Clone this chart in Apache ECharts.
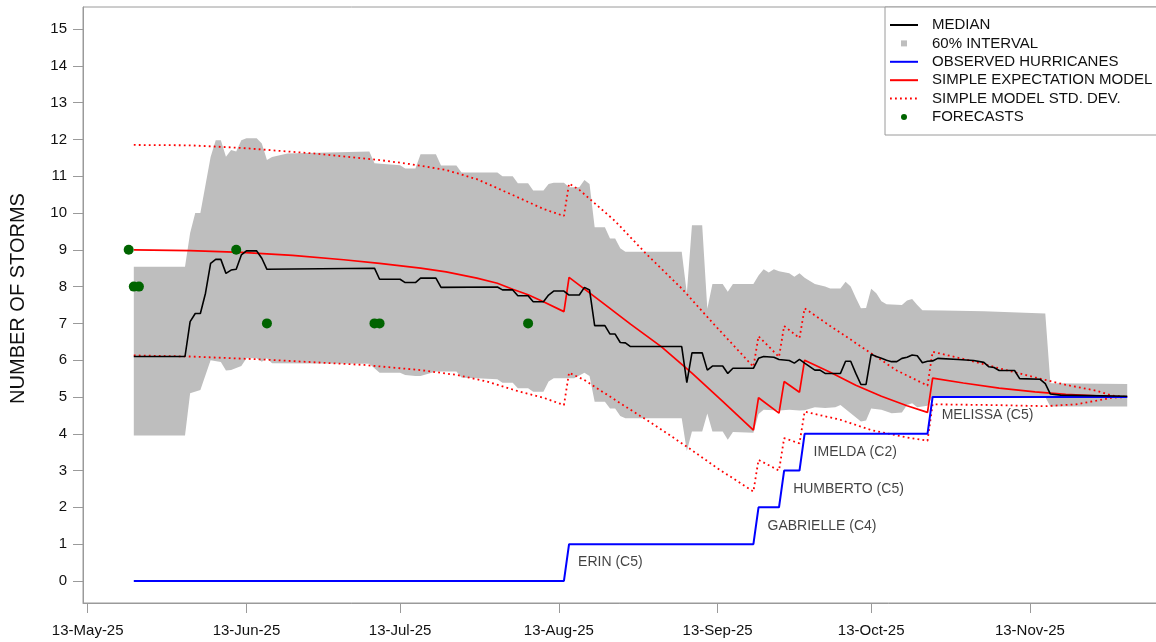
<!DOCTYPE html>
<html>
<head>
<meta charset="utf-8">
<title>Hurricane count forecast 2025</title>
<script src="https://cdn.jsdelivr.net/npm/echarts@6/dist/echarts.min.js"></script>
<style>
  html, body { margin: 0; padding: 0; background: #ffffff; }
  #chart { width: 1156px; height: 642px; }
</style>
</head>
<body>
<div id="chart"></div>
<script>
// ---- Data -------------------------------------------------------------
// x-axis tick dates and their labels
const tickDates = ['2025-05-13', '2025-06-13', '2025-07-13', '2025-08-13', '2025-09-13', '2025-10-13', '2025-11-13'];
const tickLabels = ['13-May-25', '13-Jun-25', '13-Jul-25', '13-Aug-25', '13-Sep-25', '13-Oct-25', '13-Nov-25'];
const yTicks = [0, 1, 2, 3, 4, 5, 6, 7, 8, 9, 10, 11, 12, 13, 14, 15];

// Median of the forecast ensemble
const medianData = [
  ['2025-05-22', 6.10], ['2025-06-01', 6.10], ['2025-06-02', 7.05], ['2025-06-03', 7.27], ['2025-06-04', 7.27],
  ['2025-06-05', 7.82], ['2025-06-06', 8.63], ['2025-06-07', 8.74], ['2025-06-08', 8.74], ['2025-06-09', 8.36],
  ['2025-06-10', 8.45], ['2025-06-11', 8.47], ['2025-06-12', 8.86], ['2025-06-13', 8.97], ['2025-06-15', 8.97],
  ['2025-06-16', 8.77], ['2025-06-17', 8.47], ['2025-07-08', 8.50], ['2025-07-09', 8.20], ['2025-07-13', 8.20],
  ['2025-07-14', 8.11], ['2025-07-16', 8.11], ['2025-07-17', 8.23], ['2025-07-20', 8.23], ['2025-07-21', 7.98],
  ['2025-08-01', 7.99], ['2025-08-02', 7.91], ['2025-08-04', 7.91], ['2025-08-05', 7.75], ['2025-08-07', 7.75],
  ['2025-08-08', 7.59], ['2025-08-10', 7.59], ['2025-08-11', 7.77], ['2025-08-12', 7.88], ['2025-08-14', 7.88],
  ['2025-08-15', 7.77], ['2025-08-17', 7.77], ['2025-08-18', 7.98], ['2025-08-19', 7.91], ['2025-08-20', 6.94],
  ['2025-08-22', 6.94], ['2025-08-23', 6.71], ['2025-08-24', 6.71], ['2025-08-25', 6.48], ['2025-08-26', 6.47],
  ['2025-08-27', 6.37], ['2025-09-06', 6.37], ['2025-09-07', 5.39], ['2025-09-08', 6.20], ['2025-09-10', 6.20],
  ['2025-09-11', 5.73], ['2025-09-12', 5.84], ['2025-09-14', 5.84], ['2025-09-15', 5.64], ['2025-09-16', 5.78],
  ['2025-09-20', 5.78], ['2025-09-21', 6.05], ['2025-09-22', 6.10], ['2025-09-24', 6.08], ['2025-09-25', 6.02],
  ['2025-09-27', 5.99], ['2025-09-28', 5.92], ['2025-09-29', 6.02], ['2025-09-30', 5.92], ['2025-10-02', 5.73],
  ['2025-10-03', 5.73], ['2025-10-04', 5.64], ['2025-10-07', 5.64], ['2025-10-08', 5.97], ['2025-10-09', 5.97],
  ['2025-10-10', 5.64], ['2025-10-11', 5.34], ['2025-10-12', 5.34], ['2025-10-13', 6.16], ['2025-10-14', 6.10],
  ['2025-10-15', 6.05], ['2025-10-16', 6.00], ['2025-10-17', 5.96], ['2025-10-18', 5.96], ['2025-10-19', 6.05],
  ['2025-10-20', 6.08], ['2025-10-21', 6.14], ['2025-10-22', 6.12], ['2025-10-23', 5.93], ['2025-10-24', 5.97],
  ['2025-10-25', 5.98], ['2025-10-26', 6.05], ['2025-10-30', 6.02], ['2025-11-02', 5.99], ['2025-11-04', 5.94],
  ['2025-11-05', 5.82], ['2025-11-06', 5.80], ['2025-11-07', 5.72], ['2025-11-10', 5.72], ['2025-11-11', 5.50],
  ['2025-11-15', 5.48], ['2025-11-16', 5.36], ['2025-11-17', 5.08], ['2025-11-19', 5.05], ['2025-12-02', 5.02]
];

// Upper edge of the 60% interval
const bandHigh = [
  ['2025-05-22', 8.54], ['2025-06-01', 8.54], ['2025-06-02', 9.46], ['2025-06-03', 10.00], ['2025-06-04', 10.00],
  ['2025-06-05', 10.76], ['2025-06-06', 11.52], ['2025-06-07', 11.98], ['2025-06-08', 11.98], ['2025-06-09', 11.53],
  ['2025-06-10', 11.71], ['2025-06-11', 11.67], ['2025-06-12', 11.98], ['2025-06-13', 12.03], ['2025-06-15', 12.03],
  ['2025-06-16', 11.89], ['2025-06-17', 11.44], ['2025-06-18', 11.52], ['2025-06-21', 11.62], ['2025-07-07', 11.67],
  ['2025-07-08', 11.35], ['2025-07-13', 11.30], ['2025-07-14', 11.21], ['2025-07-16', 11.21], ['2025-07-17', 11.60],
  ['2025-07-20', 11.60], ['2025-07-21', 11.29], ['2025-07-24', 11.29], ['2025-07-25', 11.10], ['2025-08-01', 11.10],
  ['2025-08-02', 11.00], ['2025-08-04', 11.00], ['2025-08-05', 10.81], ['2025-08-07', 10.81], ['2025-08-08', 10.61],
  ['2025-08-10', 10.61], ['2025-08-11', 10.79], ['2025-08-12', 10.82], ['2025-08-14', 10.82], ['2025-08-15', 10.70],
  ['2025-08-17', 10.70], ['2025-08-18', 10.90], ['2025-08-19', 10.79], ['2025-08-20', 9.61], ['2025-08-22', 9.61],
  ['2025-08-23', 9.31], ['2025-08-24', 9.31], ['2025-08-25', 9.04], ['2025-08-26', 8.95], ['2025-09-06', 8.95],
  ['2025-09-07', 7.82], ['2025-09-08', 9.67], ['2025-09-10', 9.67], ['2025-09-11', 7.40], ['2025-09-12', 8.07],
  ['2025-09-14', 8.07], ['2025-09-15', 7.86], ['2025-09-16', 8.07], ['2025-09-20', 8.07], ['2025-09-21', 8.30],
  ['2025-09-22', 8.47], ['2025-09-23', 8.38], ['2025-09-24', 8.47], ['2025-09-25', 8.42], ['2025-09-27', 8.36],
  ['2025-09-28', 8.27], ['2025-09-29', 8.36], ['2025-09-30', 8.24], ['2025-10-02', 8.07], ['2025-10-04', 8.00],
  ['2025-10-05', 7.95], ['2025-10-07', 7.95], ['2025-10-08', 8.13], ['2025-10-09', 8.00], ['2025-10-10', 7.70],
  ['2025-10-11', 7.41], ['2025-10-12', 7.42], ['2025-10-13', 7.94], ['2025-10-14', 7.82], ['2025-10-15', 7.60],
  ['2025-10-16', 7.52], ['2025-10-19', 7.50], ['2025-10-20', 7.62], ['2025-10-21', 7.66], ['2025-10-22', 7.50],
  ['2025-10-23', 7.36], ['2025-10-27', 7.35], ['2025-11-04', 7.33], ['2025-11-16', 7.27], ['2025-11-17', 5.37],
  ['2025-12-02', 5.35]
];

// Lower edge of the 60% interval
const bandLow = [
  ['2025-05-22', 3.95], ['2025-06-01', 3.95], ['2025-06-02', 5.10], ['2025-06-04', 5.19], ['2025-06-06', 6.00],
  ['2025-06-08', 5.95], ['2025-06-09', 5.72], ['2025-06-10', 5.73], ['2025-06-12', 5.84], ['2025-06-13', 6.05],
  ['2025-06-15', 6.05], ['2025-06-16', 5.96], ['2025-06-17', 6.05], ['2025-06-18', 5.92], ['2025-07-07', 5.90],
  ['2025-07-09', 5.66], ['2025-07-13', 5.66], ['2025-07-14', 5.60], ['2025-07-16', 5.57], ['2025-07-17', 5.57],
  ['2025-07-20', 5.69], ['2025-07-24', 5.69], ['2025-07-25', 5.53], ['2025-08-01', 5.48], ['2025-08-02', 5.39],
  ['2025-08-04', 5.39], ['2025-08-05', 5.24], ['2025-08-07', 5.24], ['2025-08-08', 5.14], ['2025-08-10', 5.14],
  ['2025-08-11', 5.42], ['2025-08-12', 5.51], ['2025-08-16', 5.51], ['2025-08-18', 5.66], ['2025-08-19', 5.57],
  ['2025-08-20', 4.87], ['2025-08-22', 4.87], ['2025-08-23', 4.69], ['2025-08-24', 4.69], ['2025-08-25', 4.48],
  ['2025-08-26', 4.42], ['2025-09-06', 4.42], ['2025-09-07', 3.53], ['2025-09-08', 4.06], ['2025-09-10', 4.06],
  ['2025-09-11', 4.55], ['2025-09-12', 4.06], ['2025-09-14', 4.06], ['2025-09-15', 3.84], ['2025-09-16', 4.05],
  ['2025-09-20', 4.03], ['2025-09-21', 4.54], ['2025-09-22', 4.65], ['2025-09-25', 4.63], ['2025-09-27', 4.65],
  ['2025-09-29', 4.63], ['2025-09-30', 4.64], ['2025-10-02', 4.72], ['2025-10-04', 4.70], ['2025-10-06', 4.72],
  ['2025-10-07', 4.78], ['2025-10-09', 4.56], ['2025-10-11', 4.33], ['2025-10-12', 4.36], ['2025-10-13', 4.69],
  ['2025-10-15', 4.65], ['2025-10-17', 4.56], ['2025-10-19', 4.58], ['2025-10-20', 4.78], ['2025-10-21', 4.83],
  ['2025-10-22', 4.72], ['2025-10-24', 4.76], ['2025-10-25', 5.01], ['2025-11-16', 5.00], ['2025-11-17', 4.74],
  ['2025-12-02', 4.74]
];

// Observed hurricane count to date
const observedData = [
  ['2025-05-22', 0], ['2025-08-14', 0], ['2025-08-15', 1], ['2025-09-20', 1], ['2025-09-21', 2],
  ['2025-09-25', 2], ['2025-09-26', 3], ['2025-09-29', 3], ['2025-09-30', 4], ['2025-10-24', 4],
  ['2025-10-25', 5], ['2025-12-02', 5]
];

// Simple expectation model
const modelData = [
  ['2025-05-22', 9.00], ['2025-06-02', 8.98], ['2025-06-12', 8.93], ['2025-06-22', 8.85], ['2025-07-02', 8.73],
  ['2025-07-09', 8.63], ['2025-07-17', 8.50], ['2025-07-22', 8.40], ['2025-07-28', 8.23], ['2025-08-01', 8.09],
  ['2025-08-04', 7.93], ['2025-08-07', 7.78], ['2025-08-10', 7.59], ['2025-08-14', 7.32], ['2025-08-15', 8.25],
  ['2025-08-21', 7.62], ['2025-08-27', 6.98], ['2025-09-02', 6.37], ['2025-09-08', 5.65], ['2025-09-14', 4.88],
  ['2025-09-20', 4.10], ['2025-09-21', 4.98], ['2025-09-25', 4.56], ['2025-09-26', 5.42], ['2025-09-29', 5.13],
  ['2025-09-30', 6.00], ['2025-10-05', 5.67], ['2025-10-10', 5.32], ['2025-10-15', 5.02], ['2025-10-20', 4.76],
  ['2025-10-24', 4.58], ['2025-10-25', 5.51], ['2025-10-31', 5.38], ['2025-11-07', 5.24], ['2025-11-14', 5.14],
  ['2025-11-20', 5.07], ['2025-11-26', 5.03], ['2025-12-02', 5.00]
];

// Model plus / minus one standard deviation
const modelUpper = [
  ['2025-05-22', 11.85], ['2025-06-02', 11.84], ['2025-06-12', 11.77], ['2025-06-26', 11.62], ['2025-07-09', 11.44],
  ['2025-07-15', 11.33], ['2025-07-22', 11.17], ['2025-07-28', 10.92], ['2025-08-04', 10.49], ['2025-08-10', 10.11],
  ['2025-08-14', 9.92], ['2025-08-15', 10.80], ['2025-08-17', 10.63], ['2025-08-24', 9.78], ['2025-08-30', 8.90],
  ['2025-09-06', 7.95], ['2025-09-12', 7.02], ['2025-09-16', 6.42], ['2025-09-20', 5.82], ['2025-09-21', 6.65],
  ['2025-09-25', 6.09], ['2025-09-26', 6.93], ['2025-09-29', 6.60], ['2025-09-30', 7.41], ['2025-10-05', 6.93],
  ['2025-10-12', 6.28], ['2025-10-18', 5.72], ['2025-10-24', 5.31], ['2025-10-25', 6.23], ['2025-11-01', 6.00],
  ['2025-11-07', 5.78], ['2025-11-14', 5.53], ['2025-11-20', 5.33], ['2025-11-26', 5.17], ['2025-11-29', 5.04],
  ['2025-12-02', 5.00]
];
const modelLower = [
  ['2025-05-22', 6.13], ['2025-06-02', 6.10], ['2025-06-16', 6.02], ['2025-07-06', 5.87], ['2025-07-17', 5.73],
  ['2025-07-24', 5.60], ['2025-07-30', 5.42], ['2025-08-05', 5.16], ['2025-08-10', 4.98], ['2025-08-14', 4.78],
  ['2025-08-15', 5.66], ['2025-08-18', 5.46], ['2025-08-25', 4.83], ['2025-08-31', 4.30], ['2025-09-07', 3.65],
  ['2025-09-13', 3.06], ['2025-09-20', 2.43], ['2025-09-21', 3.29], ['2025-09-25', 3.00], ['2025-09-26', 3.88],
  ['2025-09-29', 3.74], ['2025-09-30', 4.60], ['2025-10-07', 4.38], ['2025-10-13', 4.10], ['2025-10-20', 3.90],
  ['2025-10-24', 3.81], ['2025-10-25', 4.80], ['2025-11-06', 4.78], ['2025-11-16', 4.75], ['2025-11-22', 4.80],
  ['2025-11-26', 4.90], ['2025-11-29', 4.98], ['2025-12-02', 5.00]
];

// Published seasonal forecasts (number of hurricanes)
const forecastData = [
  ['2025-05-21', 9], ['2025-05-22', 8], ['2025-05-23', 8], ['2025-06-11', 9],
  ['2025-06-17', 7], ['2025-07-08', 7], ['2025-07-09', 7], ['2025-08-07', 7]
];

// Hurricanes of the season: date of the count step, count, label
const stormDates = ['2025-08-15', '2025-09-21', '2025-09-26', '2025-09-30', '2025-10-25'];
const stormCounts = [1, 2, 3, 4, 5];
const stormNames = ['ERIN (C5)', 'GABRIELLE (C4)', 'HUMBERTO (C5)', 'IMELDA (C2)', 'MELISSA (C5)'];

// ---- Helpers ----------------------------------------------------------
const DAY = 86400000;
function ts(s) {
  const p = s.split('-').map(Number);
  return Date.UTC(p[0], p[1] - 1, p[2]);
}
function toSeries(rows) {
  return rows.map(r => [ts(r[0]), r[1]]);
}

// ---- Styling constants ------------------------------------------------
const FONT = "'Liberation Sans', Arial, Helvetica, sans-serif";
const AXIS_GRAY = '#9a9a9a';
const BAND_GRAY = '#bebebe';
const RED = '#ff0000';
const dotted = { color: RED, width: 1.8, type: [1.8, 3.2], cap: 'butt' };

const origin = ts('2025-05-13');
const pxPerDay = 5.1207;
const gridLeft = 83;
const gridWidth = 1084;
const xMin = origin - 0.92 * DAY;
const xMax = xMin + (gridWidth / pxPerDay) * DAY;

const tickStamps = tickDates.map(ts);

const chart = echarts.init(document.getElementById('chart'), null, { renderer: 'canvas' });

// legend entries for line series: line only, no marker in the middle
const lineOnly = { opacity: 0 };

const option = {
  animation: false,
  backgroundColor: '#ffffff',
  textStyle: { fontFamily: FONT },
  grid: {
    left: gridLeft, top: 7, width: gridWidth, height: 596,
    containLabel: false, outerBoundsMode: 'none',
    show: true, borderColor: AXIS_GRAY, borderWidth: 1, backgroundColor: 'transparent'
  },
  legend: {
    left: 885, top: 7,
    orient: 'vertical',
    backgroundColor: '#ffffff',
    borderColor: AXIS_GRAY, borderWidth: 1,
    padding: [9, 14, 9, 4],
    itemWidth: 28, itemHeight: 6, itemGap: 0.4,
    selectedMode: false,
    textStyle: { fontFamily: FONT, fontSize: 15, color: '#111', lineHeight: 18, padding: [0, 0, 0, 9] },
    data: [
      { name: 'MEDIAN', itemStyle: lineOnly },
      { name: '60% INTERVAL', icon: 'path://M0,0H10V10H0Z' },
      { name: 'OBSERVED HURRICANES', itemStyle: lineOnly },
      { name: 'SIMPLE EXPECTATION MODEL', itemStyle: lineOnly },
      { name: 'SIMPLE MODEL STD. DEV.', itemStyle: lineOnly },
      { name: 'FORECASTS', icon: 'circle', itemStyle: { opacity: 1 } }
    ]
  },
  // Dates are placed on a numeric (millisecond) axis so the ticks can sit on the 13th of each month
  xAxis: {
    type: 'value',
    min: xMin, max: xMax,
    axisLine: { show: true, onZero: false, lineStyle: { color: AXIS_GRAY, width: 1 } },
    axisTick: { show: true, length: 10, customValues: tickStamps, lineStyle: { color: AXIS_GRAY } },
    axisLabel: {
      customValues: tickStamps,
      margin: 20, fontSize: 15, color: '#111', fontFamily: FONT,
      formatter: function (v) {
        const i = tickStamps.indexOf(v);
        return i >= 0 ? tickLabels[i] : '';
      }
    },
    splitLine: { show: false }
  },
  yAxis: {
    type: 'value',
    min: -0.6, max: 15.6,
    name: 'NUMBER OF STORMS',
    nameLocation: 'middle',
    nameGap: 55,
    nameTextStyle: { fontSize: 20, color: '#111', fontFamily: FONT, padding: [0, 0, 0, 13] },
    axisLine: { show: true, onZero: false, lineStyle: { color: AXIS_GRAY, width: 1 } },
    axisTick: { show: true, length: 10, customValues: yTicks, lineStyle: { color: AXIS_GRAY } },
    axisLabel: { customValues: yTicks, margin: 16, fontSize: 15, color: '#111', fontFamily: FONT },
    splitLine: { show: false }
  },
  series: [
    {
      name: '60% INTERVAL',
      type: 'custom',
      z: 1,
      silent: true,
      itemStyle: { color: BAND_GRAY },
      data: [[ts(bandHigh[0][0]), bandHigh[0][1]]],
      renderItem: function (params, api) {
        const top = bandHigh.map(r => api.coord([ts(r[0]), r[1]]));
        const bottom = bandLow.map(r => api.coord([ts(r[0]), r[1]])).reverse();
        return {
          type: 'polygon',
          shape: { points: top.concat(bottom) },
          style: { fill: BAND_GRAY }
        };
      }
    },
    {
      name: 'SIMPLE MODEL STD. DEV.',
      type: 'line', z: 3, symbol: 'none', silent: true,
      itemStyle: { color: RED },
      lineStyle: dotted,
      data: toSeries(modelUpper)
    },
    {
      name: 'SIMPLE MODEL STD. DEV.',
      type: 'line', z: 3, symbol: 'none', silent: true,
      itemStyle: { color: RED },
      lineStyle: dotted,
      data: toSeries(modelLower)
    },
    {
      name: 'SIMPLE EXPECTATION MODEL',
      type: 'line', z: 4, symbol: 'none', silent: true,
      itemStyle: { color: RED },
      lineStyle: { color: RED, width: 1.7 },
      data: toSeries(modelData)
    },
    {
      name: 'OBSERVED HURRICANES',
      type: 'line', z: 5, symbol: 'none', silent: true,
      itemStyle: { color: '#0000ff' },
      lineStyle: { color: '#0000ff', width: 2 },
      data: toSeries(observedData)
    },
    {
      name: 'MEDIAN',
      type: 'line', z: 6, symbol: 'none', silent: true,
      itemStyle: { color: '#000000' },
      lineStyle: { color: '#000000', width: 1.6 },
      data: toSeries(medianData)
    },
    {
      name: 'FORECASTS',
      type: 'scatter', z: 7, silent: true,
      symbol: 'circle', symbolSize: 10,
      itemStyle: { color: '#006400', opacity: 1 },
      data: toSeries(forecastData)
    },
    {
      name: 'storm labels',
      type: 'scatter', z: 8, silent: true,
      symbol: 'circle', symbolSize: 1,
      itemStyle: { color: 'rgba(0,0,0,0)' },
      label: {
        show: true, position: 'right', distance: 8.5,
        fontSize: 14, color: '#111', fontFamily: FONT,
        formatter: p => p.name
      },
      data: stormDates.map((d, i) => ({ name: stormNames[i], value: [ts(d), stormCounts[i] - 0.5] }))
    }
  ]
};

chart.setOption(option);
</script>
</body>
</html>
